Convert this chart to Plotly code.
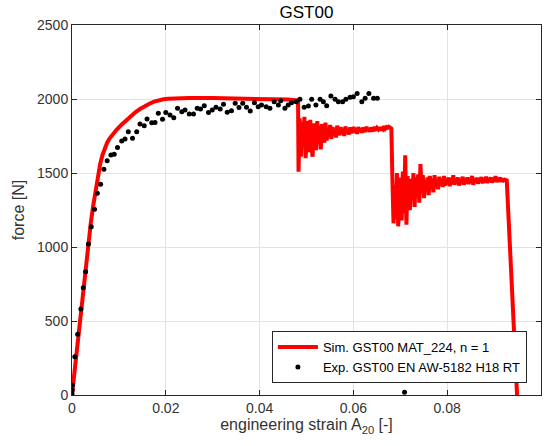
import plotly.graph_objects as go

# --- Simulation (MAT_224), smooth hardening branch ---
sim_strain_smooth = [0.0, 0.001, 0.002, 0.003, 0.0035, 0.004, 0.0045, 0.005, 0.0055, 0.006,
                     0.0065, 0.007, 0.0075, 0.008, 0.0087, 0.0095, 0.0105, 0.0115, 0.0125,
                     0.0135, 0.0145, 0.0155, 0.0165, 0.0175, 0.0185, 0.0195, 0.0205, 0.022,
                     0.025, 0.03, 0.035, 0.04, 0.044, 0.046, 0.0478, 0.0482]
sim_force_smooth = [0, 300, 600, 890, 1030, 1160, 1275, 1385, 1480, 1560,
                    1622, 1670, 1705, 1733, 1763, 1792, 1825, 1856, 1885,
                    1910, 1932, 1952, 1968, 1982, 1992, 1998, 2001, 2004,
                    2006, 2006, 2005, 2003, 2000, 1996, 1992, 1990]

# --- Simulation, first element failure and oscillating plateau ---
sim_strain_mid = [0.0483, 0.04855, 0.0488, 0.04905, 0.0493, 0.04955, 0.0498, 0.05005, 0.0503, 0.05055,
                  0.0508, 0.05105, 0.0513, 0.05155, 0.0518, 0.05205, 0.0523, 0.05255, 0.0528, 0.05305,
                  0.0533, 0.05355, 0.0538, 0.05405, 0.0543, 0.05455, 0.0548, 0.05505, 0.0553, 0.05555,
                  0.0558, 0.05605, 0.0563, 0.05655, 0.0568, 0.05705, 0.0573, 0.05755, 0.0578, 0.05805,
                  0.0583, 0.05855, 0.0588, 0.05905, 0.0593, 0.05955, 0.0598, 0.06005, 0.0603, 0.06055,
                  0.0608, 0.06105, 0.0613, 0.06155, 0.0618, 0.06205, 0.0623, 0.06255, 0.0628, 0.06305,
                  0.0633, 0.06355, 0.0638, 0.06405, 0.0643, 0.06455, 0.0648, 0.06505, 0.0653, 0.06555,
                  0.0658, 0.06605, 0.0663, 0.06655, 0.0668, 0.06705, 0.0673, 0.06755, 0.0678, 0.0681]
sim_force_mid = [1509, 1870, 1610, 1845, 1700, 1880, 1600, 1790, 1850, 1640,
                 1860, 1680, 1610, 1835, 1760, 1655, 1850, 1700, 1820, 1660,
                 1830, 1740, 1705, 1840, 1720, 1800, 1745, 1825, 1730, 1810,
                 1760, 1795, 1740, 1820, 1770, 1755, 1810, 1765, 1800, 1750,
                 1815, 1775, 1790, 1760, 1808, 1780, 1770, 1812, 1775, 1795,
                 1765, 1810, 1785, 1800, 1772, 1806, 1790, 1778, 1812, 1785,
                 1800, 1778, 1808, 1790, 1782, 1812, 1788, 1804, 1795, 1810,
                 1786, 1808, 1798, 1815, 1800, 1810, 1805, 1812, 1806, 1800]

# --- Simulation, second failure, lower plateau and final rupture ---
sim_strain_end = [0.0683, 0.06855, 0.0688, 0.06905, 0.0693, 0.06955, 0.0698, 0.07005, 0.0703, 0.07055,
                  0.0708, 0.07105, 0.0713, 0.07155, 0.0718, 0.07205, 0.0723, 0.07255, 0.0728, 0.07305,
                  0.0733, 0.07355, 0.0738, 0.07405, 0.0743, 0.07455, 0.0748, 0.07505, 0.0753, 0.07555,
                  0.0758, 0.07605, 0.0763, 0.07655, 0.0768, 0.07705, 0.0773, 0.07755, 0.0778, 0.07805,
                  0.0783, 0.07855, 0.0788, 0.07905, 0.0793, 0.07955, 0.0798, 0.08005, 0.0803, 0.08055,
                  0.0808, 0.08105, 0.0813, 0.08155, 0.0818, 0.08205, 0.0823, 0.08255, 0.0828, 0.08305,
                  0.0833, 0.08355, 0.0838, 0.08405, 0.0843, 0.08455, 0.0848, 0.08505, 0.0853, 0.08555,
                  0.0858, 0.08605, 0.0863, 0.08655, 0.0868, 0.08705, 0.0873, 0.08755, 0.0878, 0.08805,
                  0.0883, 0.08855, 0.0888, 0.08905, 0.0893, 0.08955, 0.0898, 0.09005, 0.0903, 0.09055,
                  0.0908, 0.09105, 0.0913, 0.09155, 0.0918, 0.09205, 0.0923, 0.0927, 0.0949, 0.0951]
sim_force_end = [1480, 1160, 1420, 1190, 1500, 1140, 1300, 1470, 1180, 1510,
                 1230, 1620, 1150, 1480, 1280, 1250, 1460, 1320, 1500, 1270,
                 1470, 1340, 1490, 1300, 1560, 1370, 1485, 1330, 1450, 1380,
                 1470, 1350, 1480, 1400, 1460, 1370, 1485, 1410, 1450, 1390,
                 1475, 1420, 1460, 1405, 1480, 1415, 1455, 1430, 1470, 1410,
                 1465, 1425, 1485, 1420, 1455, 1435, 1470, 1415, 1460, 1430,
                 1475, 1420, 1450, 1440, 1470, 1425, 1460, 1435, 1480, 1420,
                 1455, 1440, 1468, 1428, 1458, 1445, 1472, 1430, 1460, 1440,
                 1475, 1432, 1462, 1445, 1470, 1435, 1458, 1448, 1478, 1438,
                 1465, 1445, 1470, 1440, 1460, 1450, 1455, 1450, 0, -150]

sim_strain = sim_strain_smooth + sim_strain_mid + sim_strain_end
sim_force = sim_force_smooth + sim_force_mid + sim_force_end

# --- Experiment EN AW-5182 H18 RT ---
exp_strain = [0.0, 0.00005, 0.0001, 0.0006, 0.0012, 0.0019, 0.0024, 0.0029, 0.0035, 0.0041,
              0.0048, 0.0054, 0.0061, 0.0068, 0.0075, 0.0083, 0.009, 0.0097, 0.0106, 0.0113,
              0.012, 0.0129, 0.0138, 0.0145, 0.0154, 0.016, 0.017, 0.0177, 0.0184, 0.0193,
              0.02, 0.0209, 0.0217, 0.0225, 0.0234, 0.0241, 0.025, 0.0259, 0.0267, 0.0274,
              0.0282, 0.0291, 0.0299, 0.0307, 0.0316, 0.0323, 0.0331, 0.034, 0.0348, 0.0356,
              0.0364, 0.0372, 0.038, 0.0389, 0.0397, 0.0404, 0.0414, 0.0422, 0.0431, 0.044,
              0.0445, 0.0454, 0.0461, 0.0468, 0.0478, 0.0486, 0.0495, 0.0504, 0.0511, 0.052,
              0.0529, 0.0536, 0.0543, 0.0552, 0.0561, 0.0568, 0.0577, 0.0584, 0.0593, 0.06,
              0.0608, 0.0618, 0.0625, 0.0633, 0.0643, 0.0651, 0.0709]
exp_force = [7, 34, 68, 259, 411, 581, 725, 833, 1020, 1137,
             1255, 1363, 1424, 1525, 1583, 1622, 1626, 1673, 1716, 1730,
             1779, 1734, 1779, 1831, 1820, 1865, 1840, 1842, 1903, 1863,
             1908, 1892, 1874, 1937, 1914, 1926, 1899, 1899, 1937, 1932,
             1955, 1908, 1926, 1944, 1932, 1964, 1910, 1921, 1971, 1942,
             1971, 1944, 1919, 1975, 1948, 1959, 1948, 1937, 1982, 1959,
             1989, 1937, 1959, 1975, 1982, 1998, 1944, 1953, 1998, 1959,
             1998, 1982, 1955, 2020, 1998, 1982, 1982, 1998, 2011, 2016,
             2038, 1982, 2005, 2038, 2005, 2005, 18]

x_ticks = [0, 0.02, 0.04, 0.06, 0.08, 0.1]
x_tick_text = ["0", "0.02", "0.04", "0.06", "0.08", "0.1"]
y_ticks = [0, 500, 1000, 1500, 2000, 2500]

FONT = "Liberation Sans, Arial, Helvetica, sans-serif"
AXIS_COLOR = "#262626"
TEXT_COLOR = "#333333"
GRID_COLOR = "#e3e3e3"

fig = go.Figure()
fig.add_trace(go.Scatter(
    x=sim_strain, y=sim_force, mode="lines",
    line=dict(color="#ff0000", width=4),
    name="Sim. GST00 MAT_224, n = 1",
))
fig.add_trace(go.Scatter(
    x=exp_strain, y=exp_force, mode="markers",
    marker=dict(color="black", size=5),
    name="Exp. GST00 EN AW-5182 H18 RT",
))

axis_common = dict(
    showline=True, linecolor=AXIS_COLOR, linewidth=1, mirror="ticks",
    ticks="inside", ticklen=5, tickcolor=AXIS_COLOR,
    showgrid=True, gridcolor=GRID_COLOR, gridwidth=1,
    zeroline=False,
    tickfont=dict(family=FONT, size=14, color=TEXT_COLOR),
)

fig.update_xaxes(
    range=[0, 0.1], tickvals=x_ticks, ticktext=x_tick_text,
    title=dict(text="engineering strain A<sub>20</sub> [-]", standoff=4,
               font=dict(family=FONT, size=16, color=TEXT_COLOR)),
    **axis_common,
)
fig.update_yaxes(
    range=[0, 2500], tickvals=y_ticks,
    title=dict(text="force [N]", standoff=8,
               font=dict(family=FONT, size=16, color=TEXT_COLOR)),
    **axis_common,
)

fig.update_layout(
    width=549, height=446,
    margin=dict(l=72, r=8, t=25, b=51),
    paper_bgcolor="white", plot_bgcolor="white",
    title=dict(text="GST00", x=0.5, xref="paper", xanchor="center",
               y=1 - 12 / 446, yref="container", yanchor="middle",
               font=dict(family=FONT, size=17, color="black")),
    legend=dict(
        x=0.97, y=0.032, xanchor="right", yanchor="bottom",
        bgcolor="white", bordercolor="#262626", borderwidth=1,
        font=dict(family=FONT, size=13, color="black"),
        tracegroupgap=0, itemwidth=40,
    ),
    showlegend=True,
)

fig.write_html("out.html")
